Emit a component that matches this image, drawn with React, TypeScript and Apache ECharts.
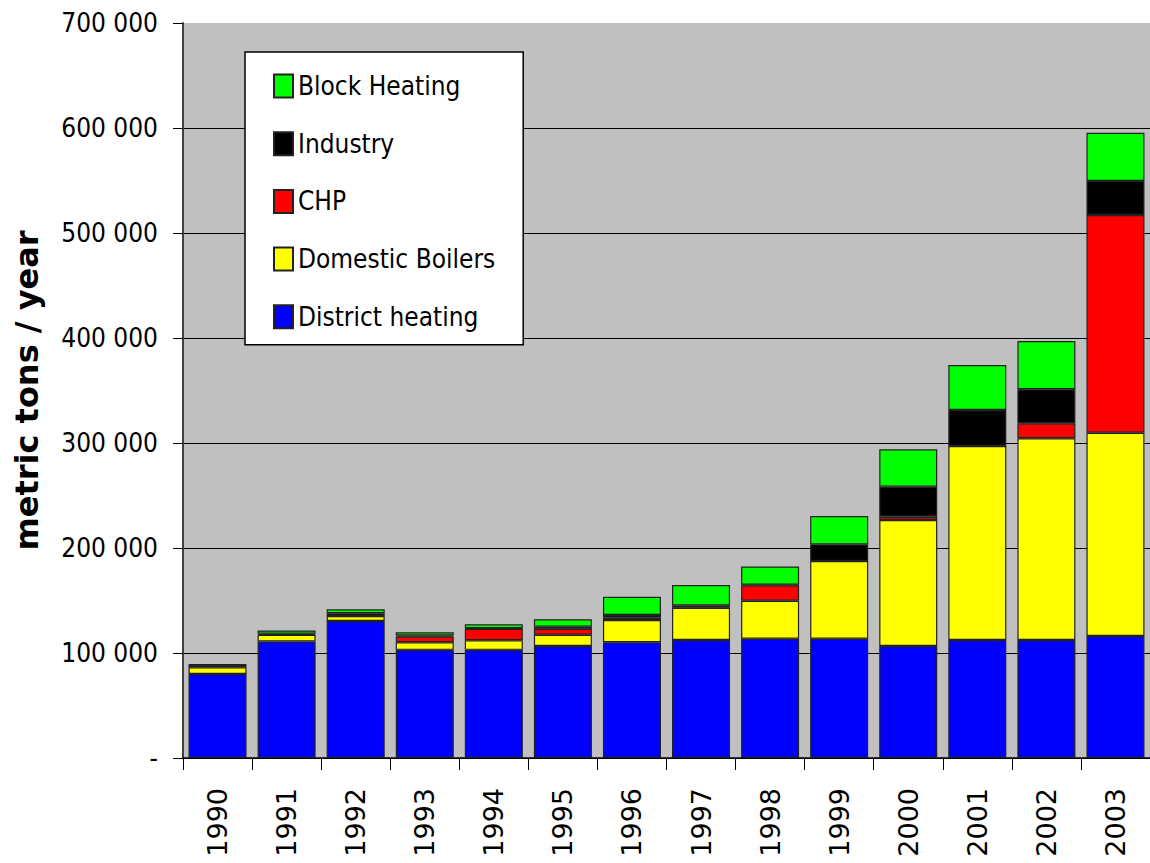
import React, { useEffect, useRef } from "react";
import * as echarts from "echarts";

const years = ["1990", "1991", "1992", "1993", "1994", "1995", "1996", "1997", "1998", "1999", "2000", "2001", "2002", "2003"];
const districtHeating = [80000, 111000, 130500, 103000, 103000, 106700, 110200, 112400, 113600, 113600, 106700, 112400, 112400, 116200];
const domesticBoilers = [6500, 6300, 4700, 7300, 9200, 10700, 21200, 30700, 36200, 74000, 120000, 184700, 192100, 193600];
const chp = [0, 0, 0, 5300, 10800, 5700, 2200, 0, 14700, 0, 3100, 0, 14300, 207300];
const industry = [2200, 1000, 2600, 1000, 600, 2000, 2600, 2300, 500, 15900, 28600, 34300, 32400, 32400];
const blockHeating = [500, 3200, 3800, 3200, 3800, 7000, 17400, 19400, 17400, 27000, 35600, 42900, 45900, 46000];
const yTicks = [0, 100000, 200000, 300000, 400000, 500000, 600000, 700000];

const seriesDefs = [
  { name: "District heating", data: districtHeating, color: "#0000ff" },
  { name: "Domestic Boilers", data: domesticBoilers, color: "#ffff00" },
  { name: "CHP", data: chp, color: "#ff0000" },
  { name: "Industry", data: industry, color: "#000000" },
  { name: "Block Heating", data: blockHeating, color: "#00ff00" },
];

const fmt = (v: number) => (v === 0 ? "-" : String(v).replace(/\B(?=(\d{3})+(?!\d))/g, " "));

export default function App() {
  const ref = useRef<HTMLDivElement>(null);
  useEffect(() => {
    if (!ref.current) return;
    const chart = echarts.init(ref.current, null, { renderer: "svg" });
    chart.setOption({
      animation: false,
      backgroundColor: "#ffffff",
      grid: {
        left: 183,
        right: 0,
        top: 23,
        bottom: 105,
        show: true,
        backgroundColor: "#c0c0c0",
        borderWidth: 0,
      },
      legend: {
        orient: "vertical",
        left: 245,
        top: 52,
        data: ["Block Heating", "Industry", "CHP", "Domestic Boilers", "District heating"],
        backgroundColor: "#ffffff",
        borderColor: "#000000",
        borderWidth: 1.5,
        borderRadius: 0,
        padding: [21, 28, 15, 28],
        itemWidth: 19,
        itemHeight: 23,
        itemGap: 31.7,
        icon: "rect",
        selectedMode: false,
        textStyle: { fontFamily: "DejaVu Sans Condensed, DejaVu Sans", fontSize: 26, color: "#000" },
      },
      xAxis: {
        type: "category",
        data: years,
        axisLine: { lineStyle: { color: "#000", width: 1.5 } },
        axisTick: { show: true, length: 12, lineStyle: { color: "#000" } },
        axisLabel: { rotate: 90, margin: 30, fontFamily: "DejaVu Sans", fontSize: 27, color: "#000" },
      },
      yAxis: {
        type: "value",
        min: 0,
        max: 700000,
        interval: 100000,
        name: "metric tons / year",
        nameLocation: "middle",
        nameGap: 140,
        nameTextStyle: { fontFamily: "DejaVu Sans", fontWeight: "bold", fontSize: 32, color: "#000" },
        axisLine: { show: true, lineStyle: { color: "#404040", width: 2 } },
        axisTick: { show: true, length: 10, lineStyle: { color: "#000" } },
        axisLabel: {
          margin: 25,
          fontFamily: "DejaVu Sans Condensed, DejaVu Sans",
          fontSize: 26,
          color: "#000",
          formatter: (v: number) => (yTicks.includes(v) ? fmt(v) : ""),
        },
        splitLine: { show: true, showMaxLine: false, lineStyle: { color: "#000", width: 1 } },
      },
      series: seriesDefs.map((s) => ({
        name: s.name,
        type: "bar",
        stack: "total",
        barCategoryGap: "16%",
        data: s.data.map((v) => (v === 0 ? null : v)),
        itemStyle: { color: s.color, borderColor: "#222222", borderWidth: 1.2 },
      })),
    });
    return () => chart.dispose();
  }, []);
  return <div ref={ref} style={{ position: "fixed", left: 0, top: 0, width: 1150, height: 863 }} />;
}
